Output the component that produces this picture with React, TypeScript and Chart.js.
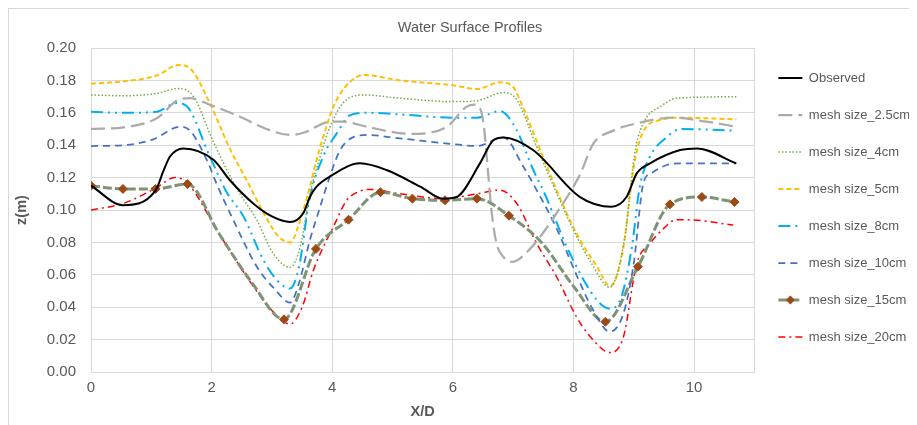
import React, { useEffect, useRef } from 'react';
import { Chart, registerables } from 'chart.js';

Chart.register(...registerables);

// ---------- text ----------
const chartTitle = 'Water Surface Profiles';
const xAxisTitle = 'X/D';
const yAxisTitle = 'z(m)';
const seriesNames = [
  'Observed',
  'mesh size_2.5cm',
  'mesh size_4cm',
  'mesh size_5cm',
  'mesh size_8cm',
  'mesh size_10cm',
  'mesh size_15cm',
  'mesh size_20cm',
];

// ---------- ticks ----------
const xTicks = [0, 2, 4, 6, 8, 10, 11];
const yTicks = [0, 0.02, 0.04, 0.06, 0.08, 0.1, 0.12, 0.14, 0.16, 0.18, 0.2];

// ---------- data (X/D, z) ----------
const observedX = [0, 0.53, 1.07, 1.2, 1.31, 1.53, 2.03, 2.3, 2.69, 3.0, 3.3, 3.52, 3.63, 3.74, 3.96, 4.46, 4.9, 5.46, 5.84, 6.06, 6.45, 6.67, 6.84, 7.33, 8.11, 8.63, 8.88, 9.05, 9.27, 9.77, 10.05, 10.7];
const observedZ = [0.115, 0.103, 0.112, 0.124, 0.133, 0.138, 0.131, 0.1185, 0.104, 0.096, 0.0926, 0.098, 0.108, 0.1144, 0.1206, 0.1288, 0.1247, 0.1144, 0.107, 0.108, 0.1288, 0.143, 0.1448, 0.137, 0.108, 0.102, 0.108, 0.1226, 0.1288, 0.137, 0.138, 0.1288];

const mesh25X = [0, 0.54, 1.09, 1.45, 1.64, 1.97, 2.47, 2.91, 3.3, 3.55, 3.96, 4.18, 4.57, 5.29, 5.9, 6.23, 6.36, 6.46, 6.52, 6.58, 6.64, 6.72, 6.84, 6.98, 7.28, 7.72, 8.11, 8.33, 8.66, 9.05, 9.66, 10.21, 10.7];
const mesh25Z = [0.15, 0.151, 0.1566, 0.168, 0.169, 0.165, 0.1576, 0.15, 0.1463, 0.148, 0.1545, 0.1545, 0.1514, 0.147, 0.1514, 0.1638, 0.165, 0.162, 0.15, 0.125, 0.1, 0.08, 0.071, 0.068, 0.076, 0.098, 0.122, 0.141, 0.149, 0.1535, 0.157, 0.1545, 0.1514];

const mesh4X = [0, 0.55, 1.09, 1.45, 1.7, 2.03, 2.42, 2.75, 3.02, 3.3, 3.47, 3.63, 3.8, 3.96, 4.18, 4.52, 5.12, 6.0, 6.4, 6.84, 7.06, 7.39, 7.75, 8.0, 8.3, 8.6, 8.86, 8.95, 9.03, 9.19, 9.44, 9.71, 10.7];
const mesh4Z = [0.171, 0.1705, 0.172, 0.175, 0.17, 0.142, 0.113, 0.0938, 0.0733, 0.0646, 0.0774, 0.11, 0.133, 0.151, 0.166, 0.171, 0.169, 0.1669, 0.1675, 0.1725, 0.168, 0.139, 0.108, 0.0877, 0.067, 0.0523, 0.085, 0.115, 0.138, 0.1556, 0.1638, 0.169, 0.1699];

const mesh5X = [0, 0.55, 1.09, 1.45, 1.64, 1.97, 2.3, 2.58, 2.88, 3.1, 3.3, 3.52, 3.63, 3.74, 3.85, 4.02, 4.24, 4.52, 5.12, 6.0, 6.4, 6.78, 7.0, 7.11, 7.45, 7.72, 8.05, 8.39, 8.61, 8.83, 8.94, 9.0, 9.1, 9.21, 9.44, 9.71, 10.7];
const mesh5Z = [0.178, 0.1795, 0.183, 0.1895, 0.1875, 0.166, 0.138, 0.1185, 0.097, 0.084, 0.08, 0.1, 0.1144, 0.131, 0.145, 0.1638, 0.177, 0.1833, 0.18, 0.177, 0.1747, 0.1788, 0.176, 0.168, 0.137, 0.1123, 0.0856, 0.065, 0.053, 0.0774, 0.11, 0.1267, 0.143, 0.1514, 0.1556, 0.157, 0.156];

const mesh8X = [0, 0.55, 1.09, 1.42, 1.59, 1.97, 2.25, 2.53, 2.86, 3.1, 3.3, 3.45, 3.62, 3.85, 4.07, 4.3, 4.57, 5.12, 6.0, 6.4, 6.78, 7.05, 7.33, 7.5, 7.94, 8.39, 8.61, 8.8, 8.97, 9.1, 9.27, 9.55, 9.77, 10.7];
const mesh8Z = [0.1607, 0.16, 0.1607, 0.166, 0.164, 0.133, 0.111, 0.0959, 0.069, 0.056, 0.0515, 0.065, 0.106, 0.133, 0.147, 0.1586, 0.16, 0.159, 0.157, 0.157, 0.161, 0.15, 0.125, 0.112, 0.0733, 0.0444, 0.039, 0.047, 0.0774, 0.1144, 0.133, 0.145, 0.15, 0.149];

const mesh10X = [0, 0.54, 1.03, 1.48, 1.64, 1.92, 2.08, 2.36, 2.75, 3.05, 3.3, 3.45, 3.63, 3.8, 3.96, 4.13, 4.35, 4.57, 5.12, 6.0, 6.4, 6.84, 7.17, 7.39, 7.72, 8.05, 8.33, 8.6, 8.83, 9.0, 9.16, 9.3, 9.55, 9.77, 10.7];
const mesh10Z = [0.1395, 0.14, 0.1436, 0.1514, 0.149, 0.131, 0.1164, 0.0938, 0.065, 0.051, 0.0428, 0.055, 0.0815, 0.102, 0.1206, 0.137, 0.145, 0.1463, 0.1442, 0.1407, 0.1395, 0.1448, 0.1267, 0.1123, 0.0887, 0.06, 0.038, 0.0249, 0.0362, 0.067, 0.1165, 0.123, 0.1278, 0.1288, 0.1288];

const mesh15X = [0, 0.53, 1.07, 1.6, 2.13, 2.67, 3.2, 3.73, 4.27, 4.8, 5.33, 5.87, 6.4, 6.93, 7.47, 8.0, 8.53, 9.07, 9.6, 10.13, 10.67];
const mesh15Z = [0.115, 0.113, 0.113, 0.116, 0.085, 0.055, 0.0325, 0.076, 0.094, 0.111, 0.107, 0.106, 0.107, 0.0965, 0.08, 0.053, 0.031, 0.065, 0.1035, 0.108, 0.105];
const mesh15Marked = [1, 1, 1, 1, 0, 0, 1, 1, 1, 1, 1, 1, 1, 1, 0, 0, 1, 1, 1, 1, 1];

const mesh20X = [0, 0.53, 1.07, 1.39, 1.59, 2.13, 2.67, 3.0, 3.3, 3.5, 3.69, 3.85, 4.02, 4.24, 4.45, 4.63, 5.12, 5.84, 6.4, 6.78, 7.06, 7.39, 7.72, 8.05, 8.28, 8.61, 8.83, 9.05, 9.27, 9.44, 9.71, 9.88, 10.65];
const mesh20Z = [0.1, 0.104, 0.1134, 0.12, 0.117, 0.085, 0.054, 0.038, 0.0296, 0.04, 0.063, 0.077, 0.0897, 0.106, 0.1115, 0.1127, 0.11, 0.107, 0.11, 0.1123, 0.104, 0.0794, 0.0588, 0.0341, 0.0218, 0.012, 0.0218, 0.067, 0.0794, 0.0866, 0.094, 0.094, 0.0907];

// ---------- styles ----------
const FONT = "'Liberation Sans', Arial, sans-serif";
const TEXT = '#595959';
const GRID = '#d9d9d9';
const LEGEND_SIZE = 13;
const LEGEND_LINE = 24;
const MARKER_COLOR = '#9c4a14';
const MARKER_SERIES = 6;

const toPoints = (xs: number[], zs: number[]) => xs.map((x, i) => ({ x, y: zs[i] }));

const lineStyles = [
  { color: '#000000', width: 2, dash: [] as number[] },
  { color: '#ababab', width: 2.25, dash: [14, 6] },
  { color: '#70ad47', width: 1.5, dash: [1.5, 2] },
  { color: '#ffc000', width: 2, dash: [5, 3] },
  { color: '#00b0f0', width: 2, dash: [12, 5, 2, 5, 2, 5] },
  { color: '#4472c4', width: 1.75, dash: [7, 5] },
  { color: '#7f9477', width: 3, dash: [9, 3] },
  { color: '#ff0000', width: 1.5, dash: [7, 4, 2, 4] },
];

const seriesData = [
  toPoints(observedX, observedZ),
  toPoints(mesh25X, mesh25Z),
  toPoints(mesh4X, mesh4Z),
  toPoints(mesh5X, mesh5Z),
  toPoints(mesh8X, mesh8Z),
  toPoints(mesh10X, mesh10Z),
  toPoints(mesh15X, mesh15Z),
  toPoints(mesh20X, mesh20Z),
];

const legendMarkerPlugin = {
  id: 'legendMarker',
  afterDraw(chart: any) {
    const legend = chart.legend;
    if (!legend || !legend.legendHitBoxes || !legend.legendItems) return;
    const idx = legend.legendItems.findIndex((it: any) => it.datasetIndex === MARKER_SERIES);
    const hb = legend.legendHitBoxes[idx];
    if (!hb) return;
    const ctx = chart.ctx;
    const cx = hb.left + LEGEND_LINE / 2;
    const cy = hb.top + LEGEND_SIZE / 2;
    const r = 4.5;
    ctx.save();
    ctx.setLineDash([]);
    ctx.fillStyle = MARKER_COLOR;
    ctx.beginPath();
    ctx.moveTo(cx, cy - r);
    ctx.lineTo(cx + r, cy);
    ctx.lineTo(cx, cy + r);
    ctx.lineTo(cx - r, cy);
    ctx.closePath();
    ctx.fill();
    ctx.restore();
  },
};

export default function App() {
  const ref = useRef<HTMLCanvasElement>(null);

  useEffect(() => {
    document.documentElement.style.overflow = 'hidden';
    const canvas = ref.current;
    if (!canvas) return;

    const datasets = seriesData.map((pts, i) => {
      const s = lineStyles[i];
      const isMarked = i === MARKER_SERIES;
      return {
        label: seriesNames[i],
        data: pts,
        borderColor: s.color,
        backgroundColor: s.color,
        borderWidth: s.width,
        borderDash: s.dash,
        fill: false,
        cubicInterpolationMode: 'monotone' as const,
        pointStyle: isMarked ? 'rectRot' : 'circle',
        pointRadius: isMarked ? mesh15Marked.map((m) => (m ? 4.5 : 0)) : 0,
        pointHoverRadius: isMarked ? mesh15Marked.map((m) => (m ? 4.5 : 0)) : 0,
        pointBackgroundColor: MARKER_COLOR,
        pointBorderColor: MARKER_COLOR,
        pointBorderWidth: 1,
      };
    });

    const chart = new Chart(canvas, {
      type: 'line',
      data: { datasets: datasets as any },
      plugins: [legendMarkerPlugin],
      options: {
        animation: false,
        responsive: false,
        devicePixelRatio: 1,
        layout: { padding: { left: 11, right: 0, top: 0, bottom: 0 } },
        scales: {
          x: {
            type: 'linear',
            min: 0,
            max: 11,
            afterBuildTicks: (scale: any) => {
              scale.ticks = xTicks.map((v) => ({ value: v }));
            },
            afterFit: (scale: any) => {
              scale.height = 53;
            },
            ticks: {
              callback: (v: any) => (Number(v) === 11 ? '' : String(v)),
              color: TEXT,
              font: { family: FONT, size: 15 },
              padding: 7,
              maxRotation: 0,
              autoSkip: false,
            },
            grid: { color: GRID, lineWidth: 1, drawTicks: false },
            border: { display: true, color: GRID },
            title: {
              display: true,
              text: xAxisTitle,
              color: TEXT,
              font: { family: FONT, size: 14.5, weight: 'bold' },
              padding: { top: 4, bottom: 4.3 },
            },
          },
          y: {
            type: 'linear',
            min: 0,
            max: 0.2,
            afterBuildTicks: (scale: any) => {
              scale.ticks = yTicks.map((v) => ({ value: v }));
            },
            afterFit: (scale: any) => {
              scale.width = 71;
            },
            ticks: {
              callback: (v: any) => Number(v).toFixed(2),
              color: TEXT,
              font: { family: FONT, size: 15 },
              padding: 15,
            },
            grid: { color: GRID, lineWidth: 1, drawTicks: false },
            border: { display: true, color: GRID },
            title: {
              display: true,
              text: yAxisTitle,
              color: TEXT,
              font: { family: FONT, size: 14.5, weight: 'bold' },
              padding: { top: -7, bottom: 4 },
            },
          },
        },
        plugins: {
          title: {
            display: true,
            text: chartTitle,
            color: TEXT,
            font: { family: FONT, size: 14.5, weight: 'normal' },
            padding: { top: 10.6, bottom: 11 },
          },
          legend: {
            position: 'right',
            align: 'start',
            title: {
              display: true,
              text: '',
              padding: 0,
              font: { family: FONT, size: 10, lineHeight: 3.85 },
            },
            labels: {
              usePointStyle: true,
              pointStyleWidth: LEGEND_LINE,
              padding: 24,
              color: TEXT,
              font: { family: FONT, size: LEGEND_SIZE },
              generateLabels: (c: any) =>
                (Chart.defaults.plugins.legend.labels.generateLabels as any)(c).map((item: any) => {
                  const ds: any = c.data.datasets[item.datasetIndex];
                  return {
                    ...item,
                    pointStyle: 'line',
                    strokeStyle: ds.borderColor,
                    fillStyle: ds.borderColor,
                    lineWidth: ds.borderWidth,
                    lineDash: ds.borderDash,
                    lineCap: 'butt',
                  };
                }),
            },
          },
          tooltip: { enabled: false },
        },
      } as any,
    });

    return () => chart.destroy();
  }, []);

  return (
    <div
      style={{
        width: 909,
        height: 417,
        overflow: 'hidden',
        boxSizing: 'border-box',
        borderLeft: '1px solid #d9d9d9',
        borderTop: '1px solid #d9d9d9',
        background: '#ffffff',
      }}
    >
      <canvas ref={ref} width={911} height={416} style={{ display: 'block' }} />
    </div>
  );
}
